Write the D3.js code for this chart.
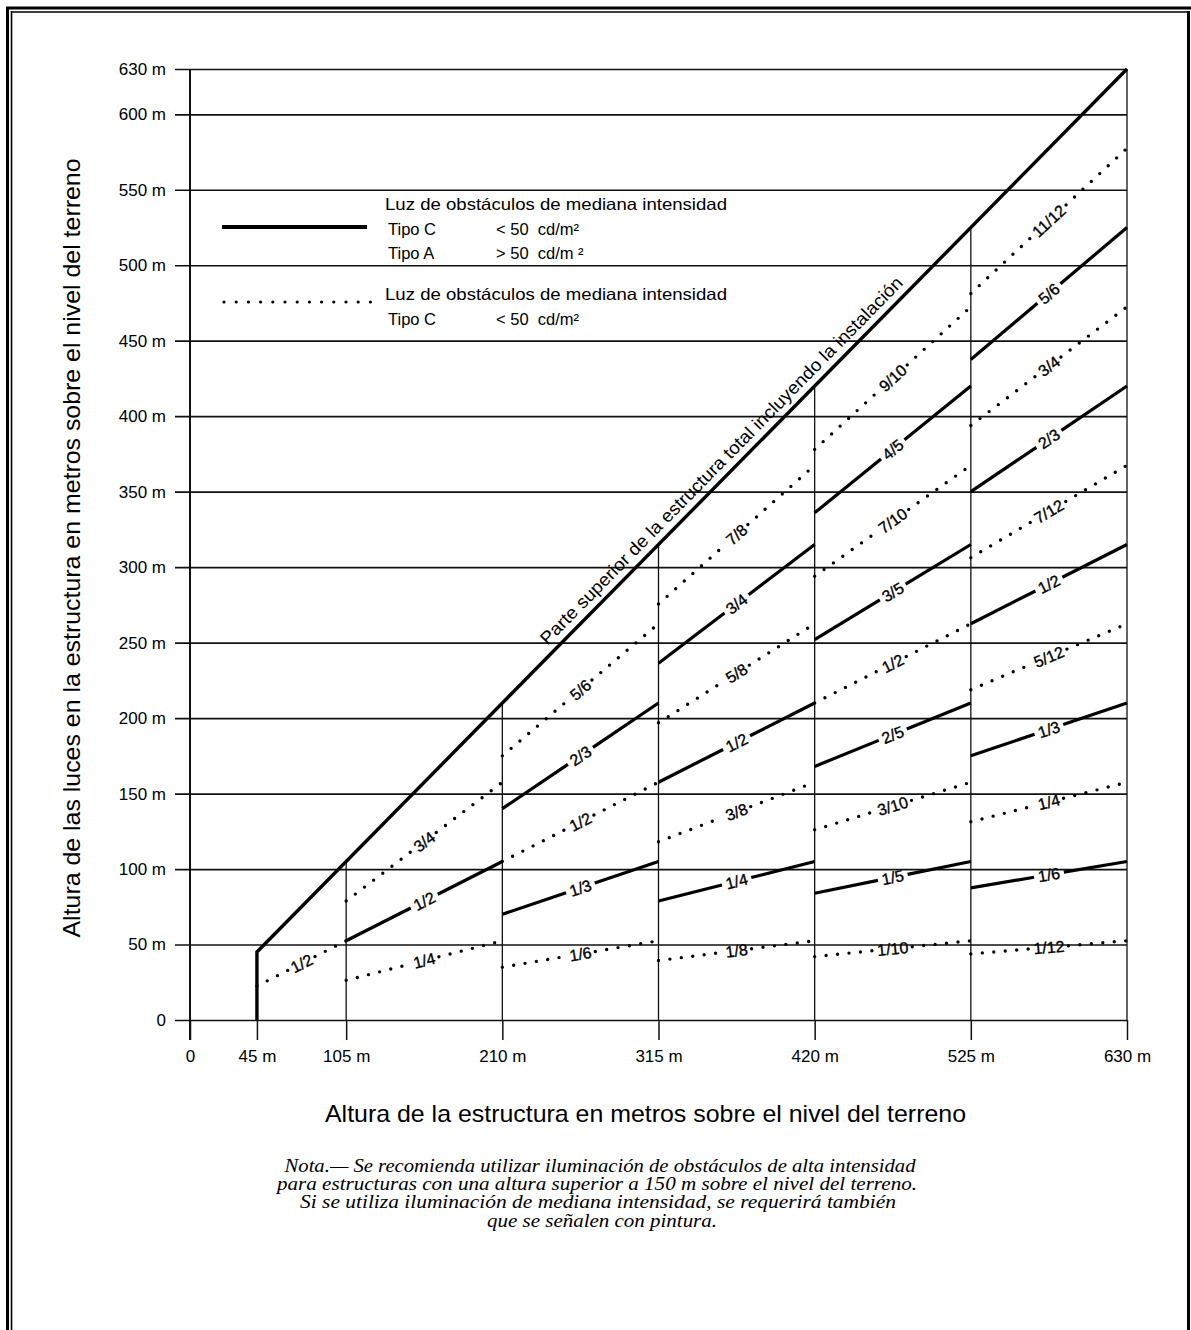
<!DOCTYPE html>
<html><head><meta charset="utf-8">
<script src="https://cdn.jsdelivr.net/npm/d3@7"></script>
<style>
body{margin:0;background:#fff}
svg{display:block}
text{font-family:"Liberation Sans",Arial,sans-serif;fill:#000}
text.note{font-family:"Liberation Serif","Times New Roman",serif;font-style:italic}
</style></head><body>
<svg id="c" width="1191" height="1330"></svg>
<script>
// ---------- data ----------
const xTicks=[0,45,105,210,315,420,525,630];
const xTickLabels=["0","45 m","105 m","210 m","315 m","420 m","525 m","630 m"];
const yTicks=[0,50,100,150,200,250,300,350,400,450,500,550,600,630];
const yTickLabels=["0","50 m","100 m","150 m","200 m","250 m","300 m","350 m","400 m","450 m","500 m","550 m","600 m","630 m"];
// top of structure line (structure height vs itself)
const topLineX=[45,45,630];
const topLineY=[0,45,630];
// vertical division lines: x and the height they reach
const divX=[105,210,315,420,525,630];
const divTop=[105,210,315,420,525,630];
// light lines
const lineLabels=["1/2","1/4","1/2","3/4","1/6","1/3","1/2","2/3","5/6","1/8","1/4","3/8","1/2","5/8","3/4","7/8","1/10","1/5","3/10","2/5","1/2","3/5","7/10","4/5","9/10","1/12","1/6","1/4","1/3","5/12","1/2","7/12","2/3","3/4","5/6","11/12"];
const lineTypes=["d","d","s","d","d","s","d","s","d","d","s","d","s","d","s","d","d","s","d","s","d","s","d","s","d","d","s","d","s","d","s","d","s","d","s","d"];
const lineX0=[45,105,105,105,210,210,210,210,210,315,315,315,315,315,315,315,420,420,420,420,420,420,420,420,420,525,525,525,525,525,525,525,525,525,525,525];
const lineX1=[105,210,210,210,315,315,315,315,315,420,420,420,420,420,420,420,525,525,525,525,525,525,525,525,525,630,630,630,630,630,630,630,630,630,630,630];
const lineY0=[22.5,26.3,52.5,78.8,35,70,105,140,175,39.4,78.8,118.1,157.5,196.9,236.3,275.6,42,84,126,168,210,252,294,336,378,43.8,87.5,131.3,175,218.8,262.5,306.3,350,393.8,437.5,481.3];
const lineY1=[52.5,52.5,105,157.5,52.5,105,157.5,210,262.5,52.5,105,157.5,210,262.5,315,367.5,52.5,105,157.5,210,262.5,315,367.5,420,472.5,52.5,105,157.5,210,262.5,315,367.5,420,472.5,525,577.5];
const topLabel="Parte superior de la estructura total incluyendo la instalación";
const legendTitle="Luz de obstáculos de mediana intensidad";
const legendRows1=[["Tipo C","< 50  cd/m²"],["Tipo A","> 50  cd/m ²"]];
const legendRows2=[["Tipo C","< 50  cd/m²"]];
const xTitle="Altura de la estructura en metros sobre el nivel del terreno";
const yTitle="Altura de las luces en la estructura en metros sobre el nivel del terreno";
const noteLines=["Nota.— Se recomienda utilizar iluminación de obstáculos de alta intensidad",
"para estructuras con una altura superior a 150 m sobre el nivel del terreno.",
"Si se utiliza iluminación de mediana intensidad, se requerirá también",
"que se señalen con pintura."];

// ---------- drawing ----------
const svg=d3.select("#c");
svg.append("rect").attr("width",1191).attr("height",1330).attr("fill","#fff");
const x=d3.scaleLinear().domain([0,630]).range([190,1127]);
const y=d3.scaleLinear().domain([0,630]).range([1020,69]);
const ink="#111";

// border
const B=svg.append("g").attr("stroke","#000").attr("fill","none");
B.append("line").attr("x1",7.5).attr("y1",7).attr("x2",7.5).attr("y2",1330).attr("stroke-width",3);
B.append("line").attr("x1",11.5).attr("y1",11).attr("x2",11.5).attr("y2",1330).attr("stroke-width",1.6);
B.append("line").attr("x1",6).attr("y1",8).attr("x2",1191).attr("y2",8).attr("stroke-width",3);
B.append("line").attr("x1",11).attr("y1",12).attr("x2",1190).attr("y2",12).attr("stroke-width",1.6);
B.append("line").attr("x1",1188.5).attr("y1",11).attr("x2",1188.5).attr("y2",1330).attr("stroke-width",3);

// y axis with gridlines
const gy=svg.append("g").attr("transform",`translate(${x(0)},0)`)
  .call(d3.axisLeft(y).tickValues(yTicks).tickFormat((d,i)=>yTickLabels[i]).tickSizeInner(15).tickSizeOuter(0).tickPadding(9));
gy.select(".domain").remove();
gy.selectAll(".tick line").attr("x1",x(630)-x(0)).attr("stroke",ink).attr("stroke-width",1.7);
gy.selectAll(".tick text").attr("font-size",17).attr("fill","#000");

// x axis
const gx=svg.append("g").attr("transform",`translate(0,${y(0)})`)
  .call(d3.axisBottom(x).tickValues(xTicks).tickFormat((d,i)=>xTickLabels[i]).tickSizeInner(20).tickSizeOuter(0).tickPadding(10));
gx.select(".domain").remove();
gx.selectAll(".tick line").attr("stroke",ink).attr("stroke-width",1.5);
gx.selectAll(".tick text").attr("font-size",17).attr("fill","#000");

// y axis line
svg.append("line").attr("x1",x(0)).attr("x2",x(0)).attr("y1",y(630)).attr("y2",y(0)+20).attr("stroke",ink).attr("stroke-width",2);

// vertical division lines
svg.append("g").selectAll("line").data(divX).join("line")
  .attr("x1",d=>x(d)).attr("x2",d=>x(d)).attr("y1",y(0)).attr("y2",(d,i)=>y(divTop[i]))
  .attr("stroke",ink).attr("stroke-width",1.3);

// top line
const topPts=topLineX.map((d,i)=>[x(d),y(topLineY[i])]);
svg.append("path").attr("d",d3.line()(topPts)).attr("fill","none").attr("stroke","#000").attr("stroke-width",3.4).attr("stroke-linejoin","miter");

// light lines with inline labels
const LG=svg.append("g");
lineLabels.forEach((lab,i)=>{
  const p0=[x(lineX0[i]),y(lineY0[i])], p1=[x(lineX1[i]),y(lineY1[i])];
  const dx=p1[0]-p0[0], dy=p1[1]-p0[1], L=Math.hypot(dx,dy);
  const ang=Math.atan2(dy,dx)*180/Math.PI;
  const m=[(p0[0]+p1[0])/2,(p0[1]+p1[1])/2];
  const t=LG.append("text").attr("transform",`translate(${m[0]},${m[1]}) rotate(${ang})`)
    .attr("text-anchor","middle").attr("dy","0.36em").attr("font-size",16)
    .attr("stroke","#000").attr("stroke-width",0.35).text(lab);
  const w=t.node().getComputedTextLength();
  const gh=w/2+4;
  const ta=0.5-gh/L, tb=0.5+gh/L;
  const pa=[p0[0]+dx*ta,p0[1]+dy*ta], pb=[p0[0]+dx*tb,p0[1]+dy*tb];
  const dotted=lineTypes[i]==="d";
  [[p0,pa],[pb,p1]].forEach(seg=>{
    LG.append("path").attr("d",d3.line()(seg)).attr("fill","none").attr("stroke","#000")
      .attr("stroke-width",dotted?3.4:3.2)
      .attr("stroke-linecap",dotted?"round":"butt")
      .attr("stroke-dasharray",dotted?"0 11.5":null);
  });
});

// top line label
{
  const p0=[x(45),y(45)], p1=[x(630),y(630)];
  const ang=Math.atan2(p1[1]-p0[1],p1[0]-p0[0])*180/Math.PI;
  const v=364;
  svg.append("text").attr("transform",`translate(${x(v)},${y(v)}) rotate(${ang})`)
    .attr("text-anchor","middle").attr("dy",-8).attr("font-size",18)
    .attr("textLength",508).attr("lengthAdjust","spacingAndGlyphs").text(topLabel);
}

// legend
const lg=svg.append("g");
lg.append("line").attr("x1",222).attr("x2",367).attr("y1",227).attr("y2",227).attr("stroke","#000").attr("stroke-width",4);
lg.append("line").attr("x1",224).attr("x2",372).attr("y1",302).attr("y2",302).attr("stroke","#000").attr("stroke-width",3.2)
  .attr("stroke-linecap","round").attr("stroke-dasharray","0 12.2");
function legendBlock(y0,rows){
  lg.append("text").attr("x",385).attr("y",y0).attr("font-size",16.5).attr("textLength",342).attr("lengthAdjust","spacingAndGlyphs").text(legendTitle);
  rows.forEach((r,k)=>{
    lg.append("text").attr("x",388).attr("y",y0+24*(k+1)+1).attr("font-size",16.5).text(r[0]);
    lg.append("text").attr("x",496).attr("y",y0+24*(k+1)+1).attr("font-size",16.5).style("white-space","pre").text(r[1]);
  });
}
legendBlock(210,legendRows1);
legendBlock(300,legendRows2);

// axis titles
svg.append("text").attr("x",645.5).attr("y",1122).attr("text-anchor","middle").attr("font-size",24)
  .attr("textLength",641).attr("lengthAdjust","spacingAndGlyphs").text(xTitle);
svg.append("text").attr("transform","translate(80,548) rotate(-90)").attr("text-anchor","middle").attr("font-size",24)
  .attr("textLength",779).attr("lengthAdjust","spacingAndGlyphs").text(yTitle);

// note
const noteCx=[600,597,598,602], noteW=[631,640,596,230], noteY=[1172,1190,1208,1227];
noteLines.forEach((s,i)=>{
  svg.append("text").attr("class","note").attr("x",noteCx[i]).attr("y",noteY[i]).attr("text-anchor","middle")
    .attr("font-size",18.5)
    .attr("textLength",noteW[i]).attr("lengthAdjust","spacingAndGlyphs").text(s);
});
</script>
</body></html>
